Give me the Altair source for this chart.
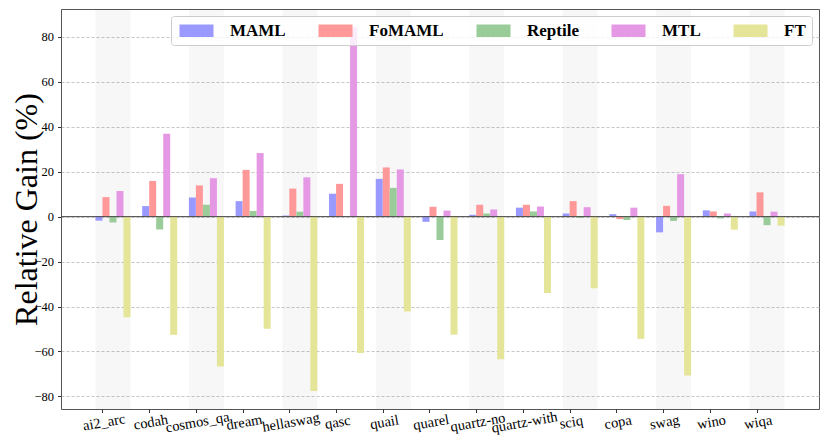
import altair as alt
import pandas as pd

datasets = ["ai2_arc", "codah", "cosmos_qa", "dream", "hellaswag", "qasc", "quail",
            "quarel", "quartz-no", "quartz-with", "sciq", "copa", "swag", "wino", "wiqa"]
methods = ["MAML", "FoMAML", "Reptile", "MTL", "FT"]

maml = [-1.8, 4.7, 8.5, 6.9, 0.5, 10.2, 16.8, -2.3, 0.8, 4.0, 1.4, 1.1, -7.0, 2.8, 2.3]
fomaml = [8.7, 15.9, 13.9, 20.8, 12.5, 14.6, 21.9, 4.4, 5.3, 5.3, 6.9, -1.1, 4.8, 2.3, 10.8]
reptile = [-2.6, -5.7, 5.3, 2.5, 2.2, 0.0, 12.8, -10.4, 1.4, 2.3, -0.6, -1.5, -1.9, -0.8, -3.8]
mtl = [11.4, 36.9, 17.1, 28.3, 17.5, 84.3, 21.0, 2.7, 3.2, 4.5, 4.2, 4.0, 18.9, 1.4, 2.2]
ft = [-44.8, -52.6, -66.7, -49.9, -77.6, -60.7, -42.2, -52.5, -63.5, -34.0, -31.9, -54.4, -70.7, -5.8, -4.0]
series = [maml, fomaml, reptile, mtl, ft]

colors = ["#9999ff", "#ff9999", "#99cc99", "#e599e5", "#e5e599"]
y_ticks = [-80, -60, -40, -20, 0, 20, 40, 60, 80]

W, H = 758, 400
BAR_W = 0.15
X_MIN, X_MAX = -0.8875, 15.3375
Y_MIN, Y_MAX = -85.6, 92.4
FONT = "Liberation Serif"

rows = []
for k, (m, vals) in enumerate(zip(methods, series)):
    for i, (d, v) in enumerate(zip(datasets, vals)):
        x0 = i + (k - 1) * BAR_W
        rows.append({"dataset": d, "method": m, "value": v, "x0": x0, "x1": x0 + BAR_W})
bars_df = pd.DataFrame(rows)

band_idx = list(range(0, len(datasets), 2))
bands_df = pd.DataFrame({"x0": [i - BAR_W for i in band_idx],
                         "x1": [i + 4 * BAR_W for i in band_idx]})

xscale = alt.Scale(domain=[X_MIN, X_MAX], nice=False, zero=False)
yscale = alt.Scale(domain=[Y_MIN, Y_MAX], nice=False, zero=False)

label_expr = "[" + ",".join("'%s'" % d for d in datasets) + "][datum.value]"

xaxis = alt.Axis(title=None, values=list(range(len(datasets))), labelExpr=label_expr,
                 grid=False, domain=False, tickSize=3.5, tickColor="#333333", tickWidth=1,
                 labelAngle=350, labelAlign="center", labelBaseline="top",
                 labelFont=FONT, labelFontSize=14.5, labelColor="#000000",
                 labelPadding=3, labelOverlap=False, labelFlush=False, labelBound=False)
yaxis = alt.Axis(title="Relative Gain (%)", values=y_ticks, grid=True, gridDash=[3, 2],
                 gridColor="#b8b8b8", gridWidth=0.8, domain=False, tickSize=3.5,
                 tickColor="#333333", tickWidth=1, labelFont=FONT, labelFontSize=12.5,
                 labelColor="#000000", labelPadding=4, titleFont=FONT, titleFontSize=32,
                 titleFontWeight="normal", titleColor="#000000", titleAngle=270,
                 titleBaseline="alphabetic", titleAlign="center", titleX=-25, titleY=H / 2)

bands = alt.Chart(bands_df).mark_rect(color="#000000", opacity=0.03).encode(
    x=alt.X("x0:Q", scale=xscale, axis=xaxis),
    x2="x1:Q",
    y=alt.value(0),
    y2=alt.value(H),
)

bars = alt.Chart(bars_df).mark_rect().encode(
    x=alt.X("x0:Q", scale=xscale, axis=xaxis),
    x2="x1:Q",
    y=alt.Y("value:Q", scale=yscale, axis=yaxis),
    y2=alt.Y2(datum=0),
    color=alt.Color(
        "method:N",
        scale=alt.Scale(domain=methods, range=colors),
        legend=alt.Legend(
            title=None, orient="top-right", offset=7, direction="horizontal", columns=5,
            symbolType="M-1,-1.05L4.67,-1.05L4.67,1.05L-1,1.05Z", symbolSize=144,
            symbolStrokeWidth=0, symbolOpacity=1,
            labelFont=FONT, labelFontWeight="bold", labelFontSize=17, labelColor="#000000",
            labelOffset=36, labelLimit=300, columnPadding=30, padding=6,
            fillColor="rgba(255,255,255,0.8)", strokeColor="#cccccc", cornerRadius=3,
        ),
    ),
    order=alt.Order("x0:Q"),
)

zero = alt.Chart(pd.DataFrame({"v": [0]})).mark_rule(color="#444444", strokeWidth=1).encode(
    y=alt.Y("v:Q", scale=yscale, axis=yaxis),
)

chart = alt.layer(bands, bars, zero).properties(
    width=W, height=H,
    padding={"left": 1, "top": 1, "right": 1, "bottom": 1},
).configure_view(stroke="#555555", strokeWidth=1)

chart.save("out.html", embed_options={"renderer": "svg", "actions": False})
